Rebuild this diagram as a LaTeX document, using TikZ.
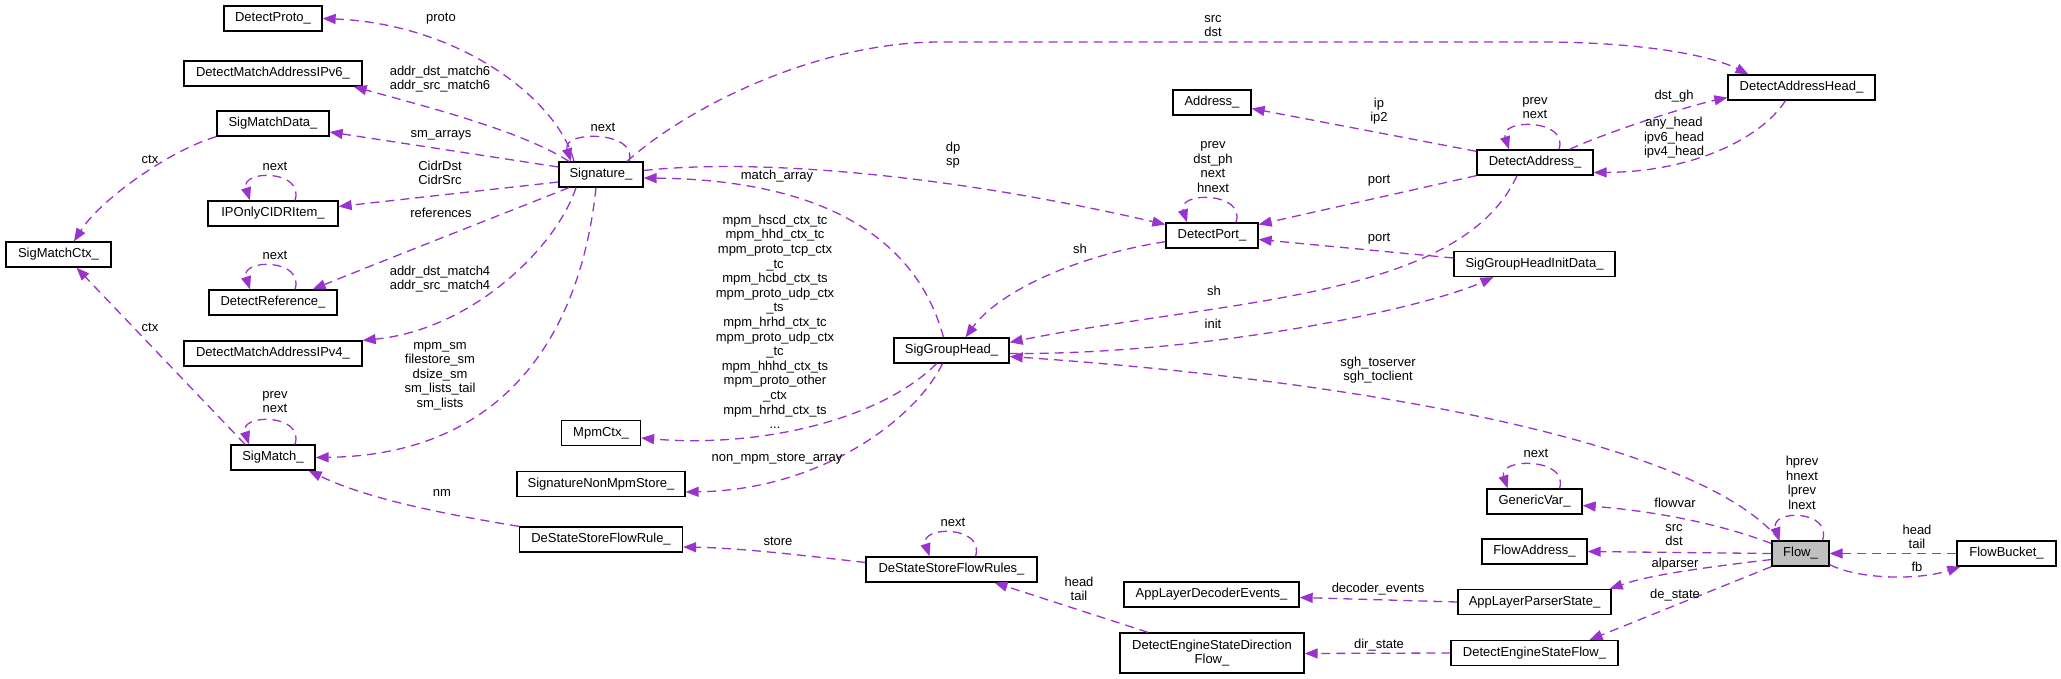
\documentclass[tikz,border=0pt]{standalone}
\usepackage{fontspec}
\setmainfont{Liberation Sans}
\usetikzlibrary{arrows.meta,calc}
\definecolor{edgecol}{HTML}{9A32CD}
\definecolor{flowfill}{HTML}{BFBFBF}
\begin{document}
\begin{tikzpicture}[x=1pt,y=-1pt,
  every node/.style={font=\fontsize{13}{14.6}\selectfont},
  box/.style={draw=black, line width=1.3pt, fill=white, minimum height=25pt, inner sep=0pt, anchor=center},
  lbl/.style={align=center, inner sep=0pt},
  edge/.style={draw=edgecol, line width=1.3pt, dash pattern=on 9pt off 6pt, -{Triangle[length=13pt,width=10pt]}},
]
\fill[white] (0,0) rectangle (2061,679);
\useasboundingbox (0,0) rectangle (2061,679);

% ---- nodes ----
\node[box, minimum width=98pt]  (proto) at (273,18.5) {DetectProto\_};
\node[box, minimum width=178pt] (ipv6)  at (273,73.5) {DetectMatchAddressIPv6\_};
\node[box, minimum width=112pt] (smd)   at (273,123.5) {SigMatchData\_};
\node[box, minimum width=130pt] (cidr)  at (273,213.5) {IPOnlyCIDRItem\_};
\node[box, minimum width=105pt] (smctx) at (58.5,254.5) {SigMatchCtx\_};
\node[box, minimum width=128pt] (dref)  at (273,302.5) {DetectReference\_};
\node[box, minimum width=178pt] (ipv4)  at (273,353.5) {DetectMatchAddressIPv4\_};
\node[box, minimum width=84pt]  (sm)    at (273,457.5) {SigMatch\_};
\node[box, minimum width=84pt]  (sig)   at (601,174.5) {Signature\_};
\node[box, minimum width=79pt]  (mpm)   at (601,433) {MpmCtx\_};
\node[box, minimum width=168pt] (snms)  at (601,484) {SignatureNonMpmStore\_};
\node[box, minimum width=163pt] (dsfr)  at (601,539.5) {DeStateStoreFlowRule\_};
\node[box, minimum width=115pt] (sgh)   at (951.5,350.5) {SigGroupHead\_};
\node[box, minimum width=171pt] (dssfrs) at (951.5,569.5) {DeStateStoreFlowRules\_};
\node[box, minimum width=78pt]  (addr)  at (1212,102.5) {Address\_};
\node[box, minimum width=92pt]  (dport) at (1212,235.5) {DetectPort\_};
\node[box, minimum width=175pt] (alde)  at (1211.5,594.5) {AppLayerDecoderEvents\_};
\node[box, minimum width=184pt, minimum height=40pt, align=center] (desdf) at (1212,653) {DetectEngineStateDirection\\Flow\_};
\node[box, minimum width=116pt] (da)    at (1535,162.5) {DetectAddress\_};
\node[box, minimum width=161pt] (sghid) at (1534.5,264) {SigGroupHeadInitData\_};
\node[box, minimum width=95pt]  (gv)    at (1534.5,501.5) {GenericVar\_};
\node[box, minimum width=105pt] (fa)    at (1534.5,551.5) {FlowAddress\_};
\node[box, minimum width=153pt] (alps)  at (1534.5,602) {AppLayerParserState\_};
\node[box, minimum width=167pt] (desf)  at (1534.5,653) {DetectEngineStateFlow\_};
\node[box, minimum width=147pt] (dah)   at (1801.5,87.5) {DetectAddressHead\_};
\node[box, minimum width=57pt, fill=flowfill] (flow) at (1800.5,553.5) {Flow\_};
\node[box, minimum width=99pt]  (fb)    at (2006.5,553.5) {FlowBucket\_};

% ---- edges from Signature_ ----
\draw[edge] ($(sig.north)+(-27,0)$) .. controls (558,100) and (460,24) .. (proto.east);
\draw[edge] ($(sig.north)+(-32,0)$) .. controls (520,130) and (420,105) .. ($(ipv6.south east)+(-9,0)$);
\draw[edge] ($(sig.west)+(0,-7.5)$) -- ($(smd.east)+(0,8.5)$);
\draw[edge] ($(sig.west)+(0,7.5)$) -- ($(cidr.east)+(0,-7)$);
\draw[edge] ($(sig.south)+(-32,0)$) .. controls (500,215) and (380,262) .. ($(dref.north east)+(-25,0)$);
\draw[edge] ($(sig.south)+(-25,0)$) .. controls (555,250) and (470,330) .. (ipv4.north east);
\draw[edge] ($(sig.south)+(-5,0)$) .. controls (580,340) and (500,455) .. (sm.east);
\draw[edge] ($(sig.north)+(26,0)$) .. controls (690,105) and (820,42) .. (940,42) -- (1540,42) .. controls (1640,42) and (1710,55) .. ($(dah.north)+(-53,0)$);
\draw[edge] ($(sig.east)+(0,-4)$) .. controls (760,158) and (950,175) .. ($(dport.west)+(0,-11)$);
\draw[edge] ($(sig.north)+(28,0)$) .. controls ($(sig.north)+(38,-31)$) and ($(sig.north)+(-40,-31)$) .. ($(sig.north)+(-30,0)$);

% ---- left column ----
\draw[edge] (smd.south west) .. controls (170,150) and (100,200) .. ($(smctx.north)+(15.5,0)$);
\draw[edge] ($(sm.north)+(-28,0)$) -- ($(smctx.south)+(18,0)$);
\draw[edge] ($(sm.north)+(22,0)$) .. controls ($(sm.north)+(32,-31)$) and ($(sm.north)+(-34,-31)$) .. ($(sm.north)+(-24,0)$);
\draw[edge] ($(cidr.north)+(22,0)$) .. controls ($(cidr.north)+(32,-31)$) and ($(cidr.north)+(-33,-31)$) .. ($(cidr.north)+(-23,0)$);
\draw[edge] ($(dref.north)+(22,0)$) .. controls ($(dref.north)+(32,-31)$) and ($(dref.north)+(-33,-31)$) .. ($(dref.north)+(-23,0)$);
\draw[edge] (dsfr.north west) .. controls (450,515) and (370,500) .. ($(sm.south east)+(-7,0)$);

% ---- SigGroupHead_ ----
\draw[edge] ($(sgh.north)+(-8,0)$) .. controls (920,250) and (840,180) .. ($(sig.east)+(0,3.5)$);
\draw[edge] ($(sgh.south)+(-15,0)$) .. controls (880,420) and (760,448) .. ($(mpm.east)+(0,5)$);
\draw[edge] ($(sgh.south)+(-9,0)$) .. controls (915,420) and (820,490) .. ($(snms.east)+(0,8)$);
\draw[edge] ($(sgh.east)+(0,3)$) .. controls (1200,355) and (1420,310) .. ($(sghid.south)+(-41,0)$);

% ---- DeStateStoreFlowRules_ ----
\draw[edge] ($(dssfrs.west)+(0,-7)$) .. controls (800,555) and (740,548) .. ($(dsfr.east)+(0,7.5)$);
\draw[edge] ($(dssfrs.north)+(24,0)$) .. controls ($(dssfrs.north)+(34,-31)$) and ($(dssfrs.north)+(-32,-31)$) .. ($(dssfrs.north)+(-22,0)$);
\draw[edge] ($(desdf.north)+(-64,0)$) -- ($(dssfrs.south)+(43,0)$);

% ---- DetectPort_ ----
\draw[edge] ($(dport.north)+(24,0)$) .. controls ($(dport.north)+(34,-31)$) and ($(dport.north)+(-35,-31)$) .. ($(dport.north)+(-25,0)$);
\draw[edge] ($(dport.south west)+(0,-7)$) .. controls (1080,255) and (1000,290) .. ($(sgh.north)+(14,0)$);

% ---- DetectAddress_ ----
\draw[edge] ($(da.north west)+(0,2)$) -- ($(addr.east)+(0,6)$);
\draw[edge] (da.south west) -- ($(dport.east)+(0,-11)$);
\draw[edge] ($(da.south)+(-18,0)$) .. controls (1460,300) and (1220,300) .. ($(sgh.north east)+(0,5)$);
\draw[edge] ($(da.north east)+(-24,0)$) .. controls (1600,135) and (1680,108) .. ($(dah.west)+(0,10)$);
\draw[edge] ($(da.north)+(24,0)$) .. controls ($(da.north)+(34,-31)$) and ($(da.north)+(-36,-31)$) .. ($(da.north)+(-26,0)$);
\draw[edge] ($(dah.south)+(-16,0)$) .. controls (1760,140) and (1690,172) .. ($(da.east)+(0,10)$);
\draw[edge] ($(sghid.west)+(0,-6)$) -- ($(dport.east)+(0,4)$);

% ---- Flow_ ----
\draw[edge] ($(flow.north)+(-21,0)$) .. controls (1700,440) and (1350,380) .. ($(sgh.east)+(0,6)$);
\draw[edge] ($(flow.north)+(22,0)$) .. controls ($(flow.north)+(32,-31)$) and ($(flow.north)+(-31,-31)$) .. ($(flow.north)+(-21,0)$);
\draw[edge] ($(gv.north)+(25,0)$) .. controls ($(gv.north)+(35,-31)$) and ($(gv.north)+(-37,-31)$) .. ($(gv.north)+(-27,0)$);
\draw[edge] ($(flow.west)+(0,-10)$) .. controls (1710,520) and (1640,510) .. ($(gv.east)+(0,4)$);
\draw[edge] (flow.west) -- (fa.east);
\draw[edge] ($(flow.west)+(0,6)$) .. controls (1700,568) and (1650,575) .. ($(alps.north east)+(-2,0)$);
\draw[edge] (flow.south west) -- ($(desf.north)+(55,0)$);
\draw[edge] (fb.west) -- (flow.east);
\draw[edge] ($(flow.south east)+(0,-2)$) .. controls (1860,580) and (1920,580) .. ($(fb.south west)+(4,0)$);
\draw[edge] (alps.west) -- ($(alde.east)+(0,3)$);
\draw[edge] (desf.west) -- ($(desdf.east)+(0,0.5)$);

% ---- labels ----
\node[lbl] (lproto) at (441,19) {proto};
\node[lbl] (lip6) at (440,79) {addr\_dst\_match6\\addr\_src\_match6};
\node[lbl] (lsma) at (441,135) {sm\_arrays};
\node[lbl] (lcidr) at (440,173) {CidrDst\\CidrSrc};
\node[lbl] (lref) at (441,213) {references};
\node[lbl] (lip4) at (440,279) {addr\_dst\_match4\\addr\_src\_match4};
\node[lbl] (lsml) at (440,376) {mpm\_sm\\filestore\_sm\\dsize\_sm\\sm\_lists\_tail\\sm\_lists};
\node[lbl] (lctx1) at (150,159) {ctx};
\node[lbl] (lctx2) at (150,327) {ctx};
\node[lbl] (lsmloop) at (275,402) {prev\\next};
\node[lbl] (lcidrloop) at (275,166) {next};
\node[lbl] (lrefloop) at (275,255) {next};
\node[lbl] (lsigloop) at (603,127) {next};
\node[lbl] (lnm) at (442,493) {nm};
\node[lbl] (lma) at (777,176) {match\_array};
\node[lbl] (lmpm) at (775,321.7) {mpm\_hscd\_ctx\_tc\\mpm\_hhd\_ctx\_tc\\mpm\_proto\_tcp\_ctx\\\_tc\\mpm\_hcbd\_ctx\_ts\\mpm\_proto\_udp\_ctx\\\_ts\\mpm\_hrhd\_ctx\_tc\\mpm\_proto\_udp\_ctx\\\_tc\\mpm\_hhhd\_ctx\_ts\\mpm\_proto\_other\\\_ctx\\mpm\_hrhd\_ctx\_ts\\...};
\node[lbl] (lnmsa) at (777,459) {non\_mpm\_store\_array};
\node[lbl] (lstore) at (778,541) {store};
\node[lbl] (ldssloop) at (953,522) {next};
\node[lbl] (lht) at (1079,589) {head\\tail};
\node[lbl] (ldpsp) at (953,155) {dp\\sp};
\node[lbl] (lsrcdst) at (1213,26) {src\\dst};
\node[lbl] (ldploop) at (1213,167) {prev\\dst\_ph\\next\\hnext};
\node[lbl] (lip) at (1379,111) {ip\\ip2};
\node[lbl] (lport1) at (1379,181) {port};
\node[lbl] (lport2) at (1379,239) {port};
\node[lbl] (ldaloop) at (1535,108) {prev\\next};
\node[lbl] (ldstgh) at (1674,96) {dst\_gh};
\node[lbl] (lanyh) at (1674,138) {any\_head\\ipv6\_head\\ipv4\_head};
\node[lbl] (lsh1) at (1214,291) {sh};
\node[lbl] (lsh2) at (1080,249) {sh};
\node[lbl] (linit) at (1213,324) {init};
\node[lbl] (lsgh) at (1378,370) {sgh\_toserver\\sgh\_toclient};
\node[lbl] (lflowloop) at (1802,483) {hprev\\hnext\\lprev\\lnext};
\node[lbl] (lgvloop) at (1536,453) {next};
\node[lbl] (lfv) at (1675,503) {flowvar};
\node[lbl] (lfa) at (1674,535) {src\\dst};
\node[lbl] (lalp) at (1675,564) {alparser};
\node[lbl] (lde) at (1675,595) {de\_state};
\node[lbl] (lfbht) at (1917,537) {head\\tail};
\node[lbl] (lfb) at (1917,567) {fb};
\node[lbl] (lde2) at (1378,589) {decoder\_events};
\node[lbl] (ldir) at (1379,645) {dir\_state};
\end{tikzpicture}
\end{document}
